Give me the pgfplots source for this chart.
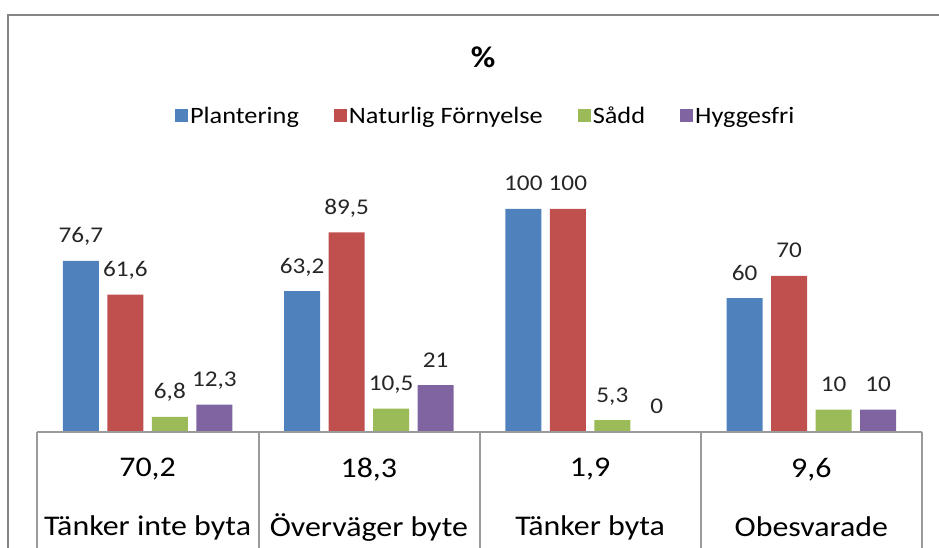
\documentclass[border=0pt]{standalone}
\usepackage{pgfplots}
\pgfplotsset{compat=1.18}
\usepackage{fontspec}
\setmainfont[FakeStretch=1.12]{Carlito}
\definecolor{cblue}{HTML}{4F81BD}
\definecolor{cred}{HTML}{C0504D}
\definecolor{cgreen}{HTML}{9BBB59}
\definecolor{cpurple}{HTML}{8064A2}
\definecolor{framegray}{HTML}{868686}
\definecolor{tablegray}{HTML}{9A9A9A}
\definecolor{labtext}{HTML}{262626}
\begin{document}
\begin{tikzpicture}
\useasboundingbox (0pt,0pt) rectangle (939pt,548pt);
\draw[line width=2pt, framegray] (8pt,0pt) -- (8pt,533pt) -- (939pt,533pt);
\begin{axis}[
  at={(37pt,116pt)}, anchor=south west,
  scale only axis, width=885pt, height=290pt,
  xmin=-0.5, xmax=3.5, ymin=0, ymax=130,
  clip=false,
  axis line style={draw=none}, tick style={draw=none},
  ytick=\empty, xtick={0,1,2,3},
  xticklabels={{70,2\\Tänker inte byta},{18,3\\Överväger byte},{1,9\\Tänker byta},{9,6\\Obesvarade}},
  xticklabel style={align=center, font=\fontsize{28.5}{59}\selectfont, inner sep=0pt, anchor=north, yshift=-22pt, text=black},
  ybar=8.5pt, bar width=36pt,
  nodes near coords,
  every node near coord/.append style={font=\fontsize{22.5}{26}\selectfont, anchor=base, yshift=18pt, inner sep=0pt, text=labtext},
  /pgf/number format/assume math mode=true,
  /pgf/number format/use comma, /pgf/number format/1000 sep={},
  title={\%},
  title style={at={(0.504,1.272)}, anchor=center, font=\bfseries\fontsize{30}{34}\selectfont},
  legend columns=4,
  legend style={draw=none, fill=none, at={(0.507,1.0897)}, anchor=center,
    font=\fontsize{23.5}{27}\selectfont, nodes={inner sep=2pt},
    /tikz/every even column/.append style={column sep=33pt}},
  legend image code/.code={\fill[#1] (0pt,-6.5pt) rectangle (13pt,6.5pt);},
]
\addplot[fill=cblue, draw=none] coordinates {(0,76.7) (1,63.2) (2,100) (3,60)};
\addplot[fill=cred, draw=none] coordinates {(0,61.6) (1,89.5) (2,100) (3,70)};
\addplot[fill=cgreen, draw=none] coordinates {(0,6.8) (1,10.5) (2,5.3) (3,10)};
\addplot[fill=cpurple, draw=none] coordinates {(0,12.3) (1,21) (2,0) (3,10)};
\legend{Plantering, Naturlig Förnyelse, Sådd, Hyggesfri}
\end{axis}
\draw[tablegray, line width=1.2pt] (37pt,116pt) -- (922pt,116pt);
\foreach \x in {37,259,480,701,922} \draw[tablegray, line width=1.2pt] (\x pt,116pt) -- (\x pt,0pt);
\end{tikzpicture}
\end{document}
